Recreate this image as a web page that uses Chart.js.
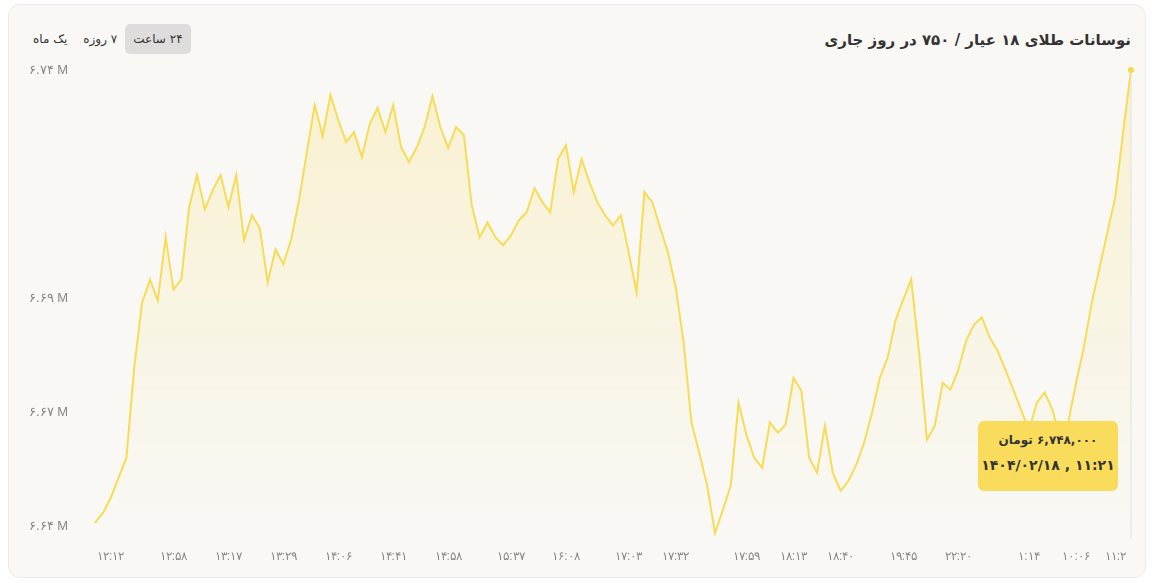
<!DOCTYPE html>
<html>
<head>
<meta charset="utf-8">
<script src="https://cdn.jsdelivr.net/npm/chart.js@4"></script>
<style>
  body { margin:0; background:#fff; font-family:"DejaVu Sans", sans-serif; }
  .card { position:absolute; left:8px; top:4px; width:1136px; height:572px; background:#f9f8f5; border:1px solid #ecebe7; border-radius:12px; }
  .title { position:absolute; right:14px; top:26px; font-size:15px; font-weight:bold; color:#333; direction:rtl; }
  .btns { position:absolute; left:16px; top:19px; display:flex; direction:ltr; font-size:12px; color:#333; }
  .btns span { padding:8px 8px; border-radius:5px; direction:rtl; unicode-bidi:isolate; }
  .btns .on { background:#dedddb; }
  .wrap { position:absolute; left:0; top:50px; width:1136px; height:520px; }
  .tip { position:absolute; left:969px; top:416px; width:140px; height:70px; background:#f9dc5c; border-radius:6px; text-align:center; color:#333; font-weight:bold; white-space:nowrap; }
  .tip .a { font-size:12px; margin-top:12px; direction:rtl; }
  .tip .b { font-size:14px; margin-top:10px; direction:ltr; }
</style>
</head>
<body>
<div class="card">
  <div class="title">نوسانات طلای ۱۸ عیار / ۷۵۰ در روز جاری</div>
  <div class="btns"><span>یک ماه</span><span>۷ روزه</span><span class="on">۲۴ ساعت</span></div>
  <div class="wrap"><canvas id="myChart"></canvas></div>
  <div class="tip"><div class="a">۶,۷۴۸,۰۰۰ تومان</div><div class="b">۱۴۰۴/۰۲/۱۸ , ۱۱:۲۱</div></div>
</div>
<script>
//---------------DATA (thousand toman)-------------
let prices = [
  6640.7, 6643.1, 6646.6, 6651.4, 6656.1, 6677.5, 6692.9, 6698.4, 6693.4, 6708.4,
  6696.0, 6698.4, 6715.5, 6723.1, 6715.0, 6719.5, 6723.1, 6715.5, 6723.1, 6707.7,
  6713.6, 6710.5, 6697.7, 6705.5, 6702.0, 6707.9, 6717.2, 6728.6, 6739.7, 6732.3,
  6742.1, 6736.1, 6730.9, 6733.3, 6727.4, 6735.2, 6739.0, 6733.3, 6739.7, 6729.7,
  6726.2, 6729.7, 6734.5, 6741.8, 6734.5, 6729.5, 6734.5, 6732.6, 6716.0, 6708.4,
  6711.9, 6708.4, 6706.5, 6708.8, 6712.4, 6714.3, 6720.0, 6716.7, 6714.3, 6726.9,
  6730.2, 6719.1, 6726.9, 6721.4, 6716.7, 6713.6, 6711.2, 6713.6, 6704.8, 6695.3,
  6719.1, 6716.7, 6710.7, 6704.8, 6696.5, 6683.4, 6664.5, 6657.3, 6649.5, 6638.3,
  6643.8, 6649.5, 6669.2, 6661.6, 6656.1, 6653.8, 6664.5, 6662.1, 6664.0, 6675.1,
  6672.0, 6656.1, 6652.6, 6663.7, 6652.6, 6648.3, 6650.7, 6654.5, 6659.7, 6666.8,
  6675.1, 6679.9, 6688.7, 6693.7, 6698.4, 6681.1, 6660.4, 6663.7, 6673.9, 6672.3,
  6677.0, 6683.9, 6687.7, 6689.4, 6684.6, 6681.5, 6677.0, 6672.3, 6667.5, 6662.6,
  6669.2, 6671.6, 6667.5, 6660.4, 6664.5, 6673.9, 6682.3, 6692.9, 6701.2, 6709.6,
  6717.9, 6733.3, 6748.0
];
let tickIdx = [2, 10, 17, 24, 31, 38, 45, 53, 60, 68, 74, 83, 89, 95, 103, 110, 119, 125, 130];
let tickText = ["۱۲:۱۲","۱۲:۵۸","۱۳:۱۷","۱۳:۲۹","۱۴:۰۶","۱۴:۴۱","۱۴:۵۸","۱۵:۳۷","۱۶:۰۸","۱۷:۰۳",
  "۱۷:۳۲","۱۷:۵۹","۱۸:۱۳","۱۸:۴۰","۱۹:۴۵","۲۲:۲۰","۱:۱۴","۱۰:۰۶","۱۱:۲"];
let yTicks = [6640, 6667, 6694, 6721, 6748];
let yText = ["۶.۶۴ M", "۶.۶۷ M", "۶.۶۹ M", "", "۶.۷۴ M"];

let labels = prices.map((p, i) => {
  let k = tickIdx.indexOf(i);
  return k >= 0 ? tickText[k] : "";
});

//------------------- CHARTING--------------------
let lastLine = {
  id: "lastLine",
  afterDatasetsDraw(chart) {
    let ctx = chart.ctx, pt = chart.getDatasetMeta(0).data[prices.length - 1];
    ctx.save();
    ctx.strokeStyle = "#e3e2de";
    ctx.lineWidth = 1;
    ctx.beginPath();
    ctx.moveTo(pt.x, pt.y);
    ctx.lineTo(pt.x, chart.chartArea.bottom);
    ctx.stroke();
    ctx.fillStyle = "#f5d94a";
    ctx.beginPath();
    ctx.arc(pt.x, pt.y, 3, 0, Math.PI * 2);
    ctx.fill();
    ctx.restore();
  }
};

let ctx = document.getElementById("myChart").getContext("2d");
let grad = ctx.createLinearGradient(0, 0, 0, 480);
grad.addColorStop(0, "rgba(250,224,110,0.28)");
grad.addColorStop(1, "rgba(250,224,110,0)");

new Chart(ctx, {
  type: "line",
  data: {
    labels: labels,
    datasets: [{
      data: prices,
      borderColor: "#f7dc55",
      borderWidth: 2,
      backgroundColor: grad,
      fill: true,
      pointRadius: 0,
      tension: 0
    }]
  },
  options: {
    responsive: true,
    maintainAspectRatio: false,
    animation: false,
    layout: { padding: { left: 20, right: 14, top: 10, bottom: 8 } },
    plugins: { legend: { display: false }, tooltip: { enabled: false } },
    scales: {
      x: {
        grid: { display: false },
        border: { display: false },
        ticks: {
          autoSkip: false, maxRotation: 0, color: "#888", font: { size: 12 },
          callback: (v, i) => labels[i]
        }
      },
      y: {
        min: 6637, max: 6749,
        grid: { display: false },
        border: { display: false },
        afterBuildTicks: (s) => { s.ticks = yTicks.map(v => ({ value: v })); },
        afterFit: (s) => { s.width = 66; },
        ticks: {
          color: "#888", font: { size: 13 }, crossAlign: "far",
          callback: (v) => yText[yTicks.indexOf(v)]
        }
      }
    }
  },
  plugins: [lastLine]
});
</script>
</body>
</html>
